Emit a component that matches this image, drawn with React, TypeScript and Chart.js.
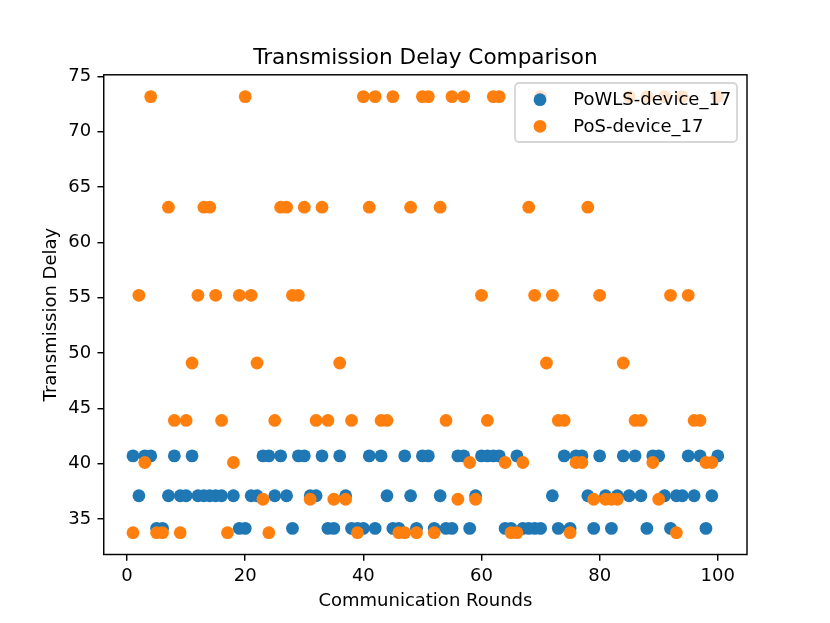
import React, { useEffect, useRef } from "react";
import { Chart, registerables } from "chart.js";

Chart.register(...registerables);

const rounds = [
  1, 2, 3, 4, 5, 6, 7, 8, 9, 10, 11, 12, 13, 14, 15, 16, 17, 18, 19, 20,
  21, 22, 23, 24, 25, 26, 27, 28, 29, 30, 31, 32, 33, 34, 35, 36, 37, 38, 39, 40,
  41, 42, 43, 44, 45, 46, 47, 48, 49, 50, 51, 52, 53, 54, 55, 56, 57, 58, 59, 60,
  61, 62, 63, 64, 65, 66, 67, 68, 69, 70, 71, 72, 73, 74, 75, 76, 77, 78, 79, 80,
  81, 82, 83, 84, 85, 86, 87, 88, 89, 90, 91, 92, 93, 94, 95, 96, 97, 98, 99, 100,
];

// null = no visible PoWLS mark at that round in the reference
const powlsDelay: (number | null)[] = [
  40.7, 37.1, 40.7, 40.7, 34.15, 34.15, 37.1, 40.7, 37.1, 37.1,
  40.7, 37.1, 37.1, 37.1, 37.1, 37.1, null, 37.1, 34.15, 34.15,
  37.1, 37.1, 40.7, 40.7, 37.1, 40.7, 37.1, 34.15, 40.7, 40.7,
  37.1, 37.1, 40.7, 34.15, 34.15, 40.7, 37.1, 34.15, 34.15, 34.15,
  40.7, 34.15, 40.7, 37.1, 34.15, 34.15, 40.7, 37.1, 34.15, 40.7,
  40.7, 34.15, 37.1, 34.15, 34.15, 40.7, 40.7, 34.15, 37.1, 40.7,
  40.7, 40.7, 40.7, 34.15, 34.15, 40.7, 34.15, 34.15, 34.15, 34.15,
  null, 37.1, 34.15, 40.7, 34.15, 40.7, 40.7, 37.1, 34.15, 40.7,
  37.1, 34.15, 37.1, 40.7, 37.1, 40.7, 37.1, 34.15, 40.7, 40.7,
  37.1, 34.15, 37.1, 37.1, 40.7, 37.1, 40.7, 34.15, 37.1, 40.7,
];

const posDelay = [
  33.76, 55.21, 40.1, 73.16, 33.76, 33.76, 63.17, 43.9, 33.76, 43.9,
  49.09, 55.21, 63.17, 63.17, 55.21, 43.9, 33.76, 40.1, 55.21, 73.16,
  55.21, 49.09, 36.78, 33.76, 43.9, 63.17, 63.17, 55.21, 55.21, 63.17,
  36.78, 43.9, 63.17, 43.9, 36.78, 49.09, 36.78, 43.9, 33.76, 73.16,
  63.17, 73.16, 43.9, 43.9, 73.16, 33.76, 33.76, 63.17, 33.76, 73.16,
  73.16, 33.76, 63.17, 43.9, 73.16, 36.78, 73.16, 40.1, 36.78, 55.21,
  43.9, 73.16, 73.16, 40.1, 33.76, 33.76, 40.1, 63.17, 55.21, 73.16,
  49.09, 55.21, 43.9, 43.9, 33.76, 40.1, 40.1, 63.17, 36.78, 55.21,
  36.78, 36.78, 36.78, 49.09, 73.16, 43.9, 43.9, 73.16, 40.1, 36.78,
  73.16, 55.21, 33.76, 73.16, 55.21, 43.9, 43.9, 40.1, 40.1, 73.16,
];

const xTicks = [0, 20, 40, 60, 80, 100];
const yTicks = [35, 40, 45, 50, 55, 60, 65, 70, 75];

const seriesNames = ["PoWLS-device_17", "PoS-device_17"];
const seriesColors = ["#1f77b4", "#ff7f0e"];
const chartTitle = "Transmission Delay Comparison";
const xTitle = "Communication Rounds";
const yTitle = "Transmission Delay";

const FONT = "'DejaVu Sans', sans-serif";

const overlayPlugin = {
  id: "mplOverlay",
  afterDatasetsDraw(chart: any) {
    const { ctx, chartArea } = chart;
    ctx.save();
    ctx.strokeStyle = "#000";
    ctx.lineWidth = 1.44;
    ctx.strokeRect(
      chartArea.left,
      chartArea.top,
      chartArea.right - chartArea.left,
      chartArea.bottom - chartArea.top
    );
    ctx.restore();
  },
  afterDraw(chart: any) {
    const { ctx, chartArea } = chart;
    ctx.save();
    // title
    ctx.fillStyle = "#000";
    ctx.font = `21.6px ${FONT}`;
    ctx.textAlign = "center";
    ctx.textBaseline = "alphabetic";
    ctx.fillText(chartTitle, (chartArea.left + chartArea.right) / 2, 64);

    // legend
    const bx = 515, by = 83, bw = 222, bh = 59, r = 4;
    ctx.beginPath();
    ctx.moveTo(bx + r, by);
    ctx.lineTo(bx + bw - r, by);
    ctx.arcTo(bx + bw, by, bx + bw, by + r, r);
    ctx.lineTo(bx + bw, by + bh - r);
    ctx.arcTo(bx + bw, by + bh, bx + bw - r, by + bh, r);
    ctx.lineTo(bx + r, by + bh);
    ctx.arcTo(bx, by + bh, bx, by + bh - r, r);
    ctx.lineTo(bx, by + r);
    ctx.arcTo(bx, by, bx + r, by, r);
    ctx.closePath();
    ctx.fillStyle = "rgba(255,255,255,0.8)";
    ctx.fill();
    ctx.strokeStyle = "rgba(204,204,204,0.8)";
    ctx.lineWidth = 1.8;
    ctx.stroke();

    const rows = [99.7, 126.3];
    ctx.font = `18px ${FONT}`;
    ctx.textAlign = "left";
    ctx.textBaseline = "alphabetic";
    seriesNames.forEach((name, i) => {
      ctx.beginPath();
      ctx.arc(540, rows[i], 6.4, 0, Math.PI * 2);
      ctx.fillStyle = seriesColors[i];
      ctx.fill();
      ctx.fillStyle = "#000";
      ctx.fillText(name, 573.3, rows[i] + 5.2);
    });
    ctx.restore();
  },
};

export default function App() {
  const canvasRef = useRef<HTMLCanvasElement | null>(null);

  useEffect(() => {
    document.body.style.margin = "0";
    const canvas = canvasRef.current;
    if (!canvas) return;

    const chart = new Chart(canvas, {
      type: "scatter",
      data: {
        datasets: [
          {
            label: seriesNames[0],
            data: rounds.map((x, i) => ({ x, y: powlsDelay[i] })),
            backgroundColor: seriesColors[0],
            borderColor: seriesColors[0],
            borderWidth: 0,
            pointRadius: 6.4,
            pointHoverRadius: 6.4,
            order: 1,
          },
          {
            label: seriesNames[1],
            data: rounds.map((x, i) => ({ x, y: posDelay[i] })),
            backgroundColor: seriesColors[1],
            borderColor: seriesColors[1],
            borderWidth: 0,
            pointRadius: 6.4,
            pointHoverRadius: 6.4,
            order: 0,
          },
        ],
      },
      options: {
        animation: false,
        responsive: false,
        devicePixelRatio: 1,
        events: [],
        layout: { padding: { left: 0, top: 74.8, right: 83, bottom: 0 } },
        plugins: {
          legend: { display: false },
          title: { display: false },
          tooltip: { enabled: false },
        },
        scales: {
          x: {
            type: "linear",
            min: -3.95,
            max: 104.95,
            afterBuildTicks: (axis: any) => {
              axis.ticks = xTicks.map((v) => ({ value: v }));
            },
            afterFit: (axis: any) => {
              axis.height = 68.5;
            },
            grid: {
              drawOnChartArea: false,
              drawTicks: true,
              tickLength: 6.3,
              color: "#000",
              lineWidth: 1.44,
            },
            border: { display: false },
            ticks: {
              color: "#000",
              font: { family: FONT, size: 18 },
              padding: 5,
              maxRotation: 0,
            },
            title: {
              display: true,
              text: xTitle,
              color: "#000",
              font: { family: FONT, size: 18 },
              padding: { top: 4, bottom: 11 },
            },
          },
          y: {
            type: "linear",
            min: 31.79,
            max: 75.13,
            afterBuildTicks: (axis: any) => {
              axis.ticks = yTicks.map((v) => ({ value: v }));
            },
            afterFit: (axis: any) => {
              axis.width = 103.75;
            },
            grid: {
              drawOnChartArea: false,
              drawTicks: true,
              tickLength: 6.3,
              color: "#000",
              lineWidth: 1.44,
            },
            border: { display: false },
            ticks: {
              color: "#000",
              font: { family: FONT, size: 18 },
              padding: 6.3,
            },
            title: {
              display: true,
              text: yTitle,
              color: "#000",
              font: { family: FONT, size: 18 },
              padding: { top: 41, bottom: 4 },
            },
          },
        },
      },
      plugins: [overlayPlugin],
    });

    return () => {
      chart.destroy();
    };
  }, []);

  return (
    <div style={{ width: 830, height: 623, background: "#fff" }}>
      <canvas ref={canvasRef} width={830} height={623} />
    </div>
  );
}
